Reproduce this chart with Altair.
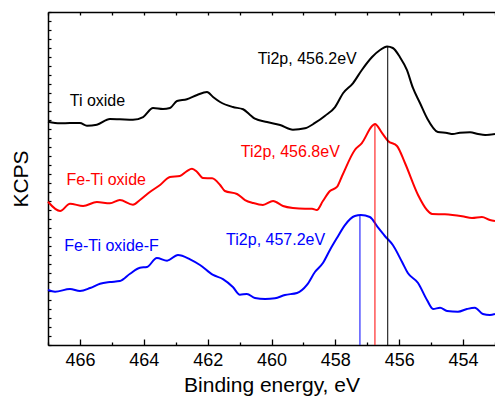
import altair as alt
import pandas as pd

# ---- data ----
series_names = ["Ti oxide", "Fe-Ti oxide", "Fe-Ti oxide-F"]
series_colors = ["#000000", "#ff0000", "#0000ff"]

energy_ti = [467.00, 466.62, 466.31, 466.00, 465.78, 465.47, 465.06, 464.75, 464.34, 464.02,
             463.71, 463.40, 463.18, 462.96, 462.65, 462.33, 462.02, 461.83, 461.61, 461.21,
             460.89, 460.67, 460.52, 460.14, 459.73, 459.33, 458.95, 458.64, 458.32, 458.01,
             457.76, 457.45, 457.17, 456.85, 456.60, 456.38, 456.20, 455.98, 455.76, 455.57,
             455.35, 455.13, 454.79, 454.50, 454.32, 454.10, 453.78, 453.53, 453.31, 453.00]
kcps_ti = [24.81, 24.63, 24.67, 24.67, 24.37, 24.48, 25.11, 25.08, 25.03, 25.33,
           26.33, 26.22, 26.33, 27.11, 27.30, 27.78, 28.11, 27.56, 27.00, 26.44,
           26.19, 25.56, 25.14, 24.78, 24.44, 23.92, 24.08, 24.67, 25.48, 26.44,
           27.97, 29.08, 30.56, 32.00, 32.78, 33.17, 33.00, 32.00, 30.56, 28.56,
           26.89, 25.22, 23.67, 23.56, 23.44, 23.59, 23.63, 23.44, 23.33, 23.44]

energy_feti = [467.00, 466.62, 466.31, 465.90, 465.47, 465.06, 464.75, 464.34, 464.12, 463.81,
               463.49, 463.18, 462.87, 462.65, 462.49, 462.33, 462.15, 461.86, 461.61, 461.46,
               461.08, 460.83, 460.58, 460.27, 459.95, 459.64, 459.33, 458.95, 458.73, 458.58,
               458.39, 458.17, 457.95, 457.79, 457.39, 457.17, 456.85, 456.76, 456.54, 456.35,
               456.07, 455.82, 455.41, 455.13, 454.97, 454.57, 454.03, 453.72, 453.41, 453.16, 453.00]
kcps_feti = [15.92, 14.89, 15.70, 15.44, 15.89, 15.74, 16.11, 15.59, 16.11, 17.00,
             17.78, 18.67, 18.78, 19.33, 19.59, 19.22, 18.56, 18.52, 17.78, 17.11,
             16.78, 16.11, 15.78, 15.56, 16.00, 15.44, 15.22, 15.14, 15.14, 15.00,
             16.00, 17.11, 17.56, 18.78, 21.67, 22.44, 24.33, 24.56, 23.56, 22.67,
             22.11, 20.22, 16.67, 15.00, 14.56, 14.52, 14.30, 14.11, 14.22, 13.89, 13.78]

energy_fetif = [467.00, 466.78, 466.31, 466.00, 465.68, 465.37, 465.06, 464.75, 464.43, 464.12,
                463.90, 463.59, 463.27, 462.93, 462.55, 462.24, 461.83, 461.52, 461.21, 460.99,
                460.77, 460.52, 460.20, 459.89, 459.58, 459.20, 458.89, 458.64, 458.39, 458.17,
                457.95, 457.70, 457.39, 457.20, 456.92, 456.66, 456.45, 456.20, 455.91, 455.73,
                455.41, 455.13, 454.94, 454.72, 454.50, 454.16, 453.88, 453.63, 453.38, 453.16, 453.00]
kcps_fetif = [6.11, 5.92, 6.22, 6.00, 6.33, 6.81, 7.00, 7.11, 7.92, 8.59,
              8.67, 9.67, 9.37, 10.00, 9.52, 8.89, 7.78, 7.33, 6.44, 5.59,
              5.67, 5.22, 5.11, 5.19, 5.56, 5.78, 6.67, 8.11, 9.11, 10.56,
              11.89, 13.33, 14.33, 14.44, 14.22, 13.03, 12.11, 11.11, 9.22, 8.00,
              6.89, 5.00, 4.00, 4.14, 3.78, 3.70, 4.00, 4.14, 3.44, 3.33, 3.44]

# peak marker lines
peak_energy = [456.36, 456.76, 457.23]
peak_kcps = [33.17, 24.56, 14.44]

# annotations
name_energy = [466.32, 466.42, 466.49]
name_kcps = [27.13, 18.36, 11.02]
peak_labels = ["Ti2p, 456.2eV", "Ti2p, 456.8eV", "Ti2p, 457.2eV"]
peak_label_energy = [457.33, 457.86, 458.32]
peak_label_kcps = [31.76, 21.39, 11.67]

major_ticks = [466, 464, 462, 460, 458, 456, 454]
minor_ticks = [467, 465, 463, 461, 459, 457, 455, 453]
all_ticks = list(range(453, 468))
y_ticks = list(range(0, 38))

# ---- tables ----
curves = pd.concat([
    pd.DataFrame({"energy": energy_ti, "kcps": kcps_ti, "series": series_names[0]}),
    pd.DataFrame({"energy": energy_feti, "kcps": kcps_feti, "series": series_names[1]}),
    pd.DataFrame({"energy": energy_fetif, "kcps": kcps_fetif, "series": series_names[2]}),
], ignore_index=True)
peaks = pd.DataFrame({"energy": peak_energy, "kcps": peak_kcps, "series": series_names})
names = pd.DataFrame({"energy": name_energy, "kcps": name_kcps, "series": series_names})
plabels = pd.DataFrame({"energy": peak_label_energy, "kcps": peak_label_kcps,
                        "series": series_names, "label": peak_labels})

FONT = "Liberation Sans"
xscale = alt.Scale(domain=[453, 467], reverse=True, nice=False, zero=False)
yscale = alt.Scale(domain=[0, 37], nice=False, zero=False)
color = alt.Color("series:N", scale=alt.Scale(domain=series_names, range=series_colors), legend=None)

def xaxis(**kw):
    base = dict(grid=False, labels=False, domain=False, title=None, tickColor="black",
                tickWidth=1.3)
    base.update(kw)
    return alt.Axis(**base)

lines = alt.Chart(curves).mark_line(strokeWidth=2, interpolate="monotone").encode(
    x=alt.X("energy:Q", scale=xscale,
            axis=alt.Axis(orient="bottom", values=major_ticks, format="d", ticks=False, tickSize=0,
                          labelPadding=6, labelFontSize=18, labelFont=FONT, labelColor="black",
                          domain=True, domainColor="black", domainWidth=1.5, grid=False,
                          title="Binding energy, eV", titleFont=FONT, titleFontSize=21,
                          titleFontWeight="normal", titleColor="black", titlePadding=5)),
    y=alt.Y("kcps:Q", scale=yscale,
            axis=alt.Axis(orient="left", labels=False, ticks=False, tickSize=0, domain=True,
                          domainColor="black", domainWidth=1.5, grid=False, title="KCPS",
                          titleFont=FONT, titleFontSize=21, titleFontWeight="normal",
                          titleColor="black", titlePadding=17)),
    color=color,
    order="energy:Q",
)

rules = alt.Chart(peaks).mark_rule(strokeWidth=1).encode(
    x=alt.X("energy:Q", scale=xscale,
            axis=xaxis(orient="bottom", offset=-6, values=major_ticks, tickSize=6)),
    y=alt.Y("kcps:Q", scale=yscale,
            axis=alt.Axis(orient="left", offset=-3, values=y_ticks, tickSize=3, labels=False,
                          domain=False, grid=False, title=None, tickColor="black", tickWidth=1.2)),
    y2=alt.datum(0),
    color=color,
)

name_text = alt.Chart(names).mark_text(align="left", baseline="middle", font=FONT, fontSize=16).encode(
    x=alt.X("energy:Q", scale=xscale,
            axis=xaxis(orient="bottom", offset=-3, values=minor_ticks, tickSize=3)),
    y=alt.Y("kcps:Q", scale=yscale, axis=None),
    text="series:N",
    color=color,
)

peak_text = alt.Chart(plabels).mark_text(align="right", baseline="middle", font=FONT, fontSize=16).encode(
    x=alt.X("energy:Q", scale=xscale,
            axis=xaxis(orient="top", offset=-3, values=all_ticks, tickSize=3)),
    y=alt.Y("kcps:Q", scale=yscale, axis=None),
    text="label:N",
    color=color,
)

top_frame = alt.Chart(peaks).mark_rule(opacity=0).encode(
    x=alt.X("energy:Q", scale=xscale,
            axis=alt.Axis(orient="top", ticks=False, tickSize=0, labels=False, domain=True,
                          domainColor="black", domainWidth=1.5, grid=False, title=None)),
    y=alt.Y("kcps:Q", scale=yscale, axis=None),
)

chart = alt.layer(lines, rules, name_text, peak_text, top_frame).resolve_axis(
    x="independent", y="independent"
).properties(
    width=447, height=333,
    padding={"left": 48, "top": 12, "right": 0, "bottom": 52},
    autosize="none",
    background="white",
).configure_view(stroke=None)

chart.save("out.html", embed_options={"renderer": "svg", "actions": False})
